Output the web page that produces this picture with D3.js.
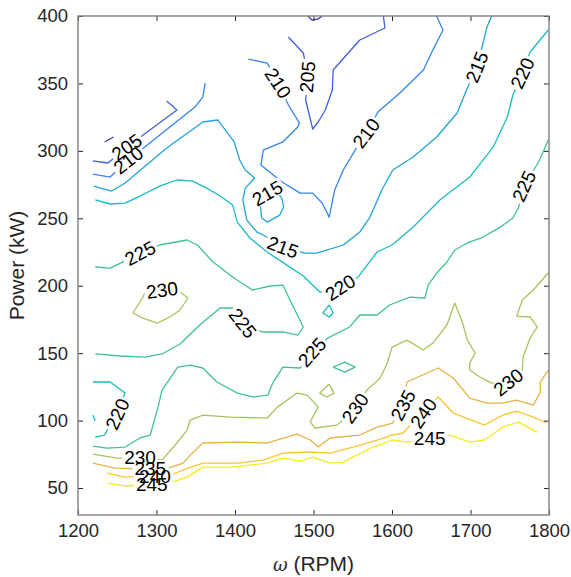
<!DOCTYPE html>
<html><head><meta charset="utf-8">
<script src="https://cdn.jsdelivr.net/npm/d3@7"></script>
<style>body{margin:0;background:#fff}</style>
</head><body>
<svg id="c" width="571" height="577"></svg>
<script>
// ---- data ----
const rpmTicks = [1200,1300,1400,1500,1600,1700,1800];
const powerTicks = [50,100,150,200,250,300,350,400];
const levels = [200,205,210,215,220,225,230,235,240,245];
const levelColors = ["#4a2fb0","#3f5fe0","#3585e6","#1fa5dc","#17bcc4","#40c38e","#a6c45c","#e3b443","#f7c535","#f2ee1c"];

const iso200 = [
  [[1493,400],[1498,397],[1506,397.8],[1511,400]],
  [[1234,306.6],[1243,309.5],[1245,310.3]]
];
const iso205 = [
  [[1313,337],[1326,330.3],[1283,311.8],[1262,302.1],[1238,291],[1219,292.5]],
  [[1468,384.4],[1487,372.6],[1493,354.8],[1490,337.7],[1499,316.2],[1506,321.4],[1515,330.3],[1524,345.1],[1525,360],[1559,382.2],[1591,391.1],[1589,400]]
];
const iso210 = [
  [[1362,350.3],[1359,339.9],[1349,332.5],[1285,302.9],[1264,293.2],[1241,280.6],[1219,282.8]],
  [[1417,368.1],[1441,365.1],[1455,350.3],[1468,334],[1482,320.7],[1480,317.7],[1461,306.6],[1436,300.6],[1433,289.5],[1460,276.9],[1483,268.7],[1499,268.7],[1511,261.3],[1520,250.9],[1527,271],[1538,285.8],[1553,300.6],[1568,313.2],[1582,328.8],[1610,342.9],[1640,360],[1652,374.8],[1665,389.6],[1659,397],[1657,400]]
];
const iso215 = [
  [[1220,273.9],[1243,270.2],[1260,276.2],[1313,302.1],[1359,321.4],[1378,322.9],[1399,306.6],[1406,293.2],[1413,285.8],[1425,279.9],[1413,272.4],[1410,263.6],[1415,248.7],[1428,239.8],[1436,237.6],[1461,228.7],[1489,224.2],[1504,224.2],[1538,230.2],[1559,239.8],[1572,250.9],[1587,271],[1601,285.8],[1627,295.4],[1657,310.3],[1683,328.1],[1696,346.6],[1708,362.2],[1716,380],[1721,391.8],[1727,400]],
  [[1432,261.3],[1434,250.2],[1441,247.2],[1457,252.4],[1462,258.4],[1460,264.3],[1451,272.4],[1437,271],[1432,261.3]]
];
const iso220 = [
  [[1222,263.6],[1241,260.6],[1260,261.3],[1279,266.5],[1304,273.9],[1326,278.4],[1346,277.6],[1364,272.4],[1381,266.5],[1397,259.8],[1403,247.2],[1419,235.4],[1441,225],[1466,215.3],[1487,207.2],[1508,195.3],[1534,198.3],[1557,206.5],[1581,225],[1600,230.2],[1627,243.5],[1661,263.6],[1699,280.6],[1729,302.9],[1747,325.1],[1754,341.4],[1766,357.7],[1776,373.3],[1799,389.6]],
  [[1219,128.6],[1241,128.6],[1260,120.4],[1248,104.9],[1234,89.3],[1222,87.8]],
  [[1219,104.1],[1222,99.7]],
  [[1520,185.7],[1525,179.8],[1520,176.8],[1512,179.8],[1520,185.7]]
];
const iso225 = [
  [[1222,213.9],[1241,213.1],[1254,216.8],[1279,224.2],[1304,230.2],[1339,233.9],[1352,230.2],[1372,217.6],[1397,206.5],[1422,196.8],[1445,199.8],[1461,200.5],[1470,189.4],[1487,169.4],[1480,163.4],[1461,165.7],[1436,165.7],[1425,167.1],[1410,172.3],[1397,183.5],[1381,183.5],[1355,170.9],[1330,156.8],[1307,149.4],[1285,147.1],[1254,147.9],[1222,149.4]],
  [[1799,308],[1792,298.4],[1786,291],[1768,273.9],[1761,257.6],[1754,250.2],[1738,243.5],[1716,236.1],[1696,231.7],[1680,226.5],[1670,217.6],[1657,209.4],[1646,200.5],[1642,190.9],[1623,191.6],[1597,185.7],[1581,178.3],[1559,178.3],[1546,169.4],[1518,161.2],[1498,150.8],[1483,139],[1461,139.7],[1448,127.8],[1442,118.9],[1423,117.5],[1403,120.4],[1377,128.6],[1359,139],[1343,141.2],[1327,139.7],[1307,122.6],[1302,110],[1292,89.3],[1279,87.1],[1260,80.4],[1237,79.6],[1219,81.1]],
  [[1525,139.7],[1540,143.4],[1553,139.7],[1540,136],[1525,139.7]]
];
const iso230 = [
  [[1282,190.9],[1289,199],[1307,201.3],[1330,195.3],[1340,190.9],[1330,182],[1317,176.8],[1301,172.3],[1282,176.1],[1270,179.8],[1282,190.9]],
  [[1219,75.2],[1250,72.2],[1279,72.2],[1307,70.7],[1326,83.4],[1339,93],[1343,100.4],[1359,104.1],[1394,102.6],[1441,101.9],[1454,110],[1479,120.4],[1492,118.9],[1506,110],[1499,102.6],[1496,98.9],[1502,94.5],[1530,96.7],[1553,107.8],[1568,122.6],[1585,131.6],[1594,142.7],[1600,154.5],[1619,159.7],[1640,152.3],[1652,157.5],[1670,170.9],[1680,187.2],[1690,172.3],[1696,159.7],[1706,150.1],[1699,142.7],[1699,137.5],[1712,132.3],[1727,127.8],[1748,128.6],[1766,137.5],[1767,147.1],[1776,161.2],[1785,169.4],[1776,176.8],[1759,177.5],[1766,189.4],[1780,196.8],[1799,209.4]],
  [[1520,127.1],[1526,120.4],[1517,117.5],[1508,120.4],[1520,127.1]]
];
const iso235 = [
  [[1219,68.5],[1247,64.8],[1292,64.1],[1315,64.8],[1334,68.5],[1343,74.4],[1359,83.4],[1403,84.1],[1441,83.4],[1479,90],[1496,85.6],[1506,80.4],[1521,87.1],[1559,89.3],[1581,95.2],[1601,98.2],[1613,113.7],[1619,128.6],[1659,139],[1678,131.6],[1699,116.7],[1721,113],[1741,113],[1759,115.2],[1780,111.5],[1789,121.2],[1789,128.6],[1799,137.5]]
];
const iso240 = [
  [[1237,61.1],[1260,58.1],[1298,58.9],[1321,60.4],[1340,64.8],[1359,68.5],[1403,68.5],[1436,70.7],[1461,75.9],[1496,76.7],[1521,75.9],[1555,81.1],[1581,85.6],[1600,89.3],[1614,90.8],[1636,104.1],[1659,117.5],[1678,105.6],[1718,96.7],[1741,104.1],[1759,107.1],[1780,102.6],[1797,98.2]]
];
const iso245 = [
  [[1238,53.7],[1260,51.5],[1294,53],[1320,54.4],[1339,58.1],[1359,65.5],[1397,65.5],[1441,68.5],[1461,72.2],[1483,70],[1499,72.9],[1521,68.5],[1538,69.2],[1555,74.4],[1576,80.4],[1600,85.6],[1620,84.1],[1648,87.1],[1674,89.3],[1699,84.1],[1718,85.6],[1741,95.2],[1761,98.9],[1785,91.5]]
];
const isoLines = [iso200,iso205,iso210,iso215,iso220,iso225,iso230,iso235,iso240,iso245];

// label: [level, rpm, kW, rotation in degrees]
const contourLabels = [
  [205,1262,302.9,-35],[210,1264,293.2,-38],[210,1455,350.3,57],[205,1492,354.8,-85],
  [210,1567,313.2,-53],[215,1708,362.2,-68],[220,1766,357.7,-65],[225,1768,273.9,-65],
  [215,1441,268.7,-30],[215,1461,228.7,20],[220,1534,198.8,-33],[225,1279,224.2,-28],
  [230,1307,196.8,-8],[225,1410,172.3,52],[225,1498,150.8,-48],[220,1250,104.9,-65],
  [230,1279,72.9,0],[235,1292,64.8,0],[240,1298,58.9,0],[245,1294,53,0],
  [230,1553,109.3,-55],[235,1614,111.5,-62],[240,1640,105.6,-55],[245,1648,87.1,0],
  [230,1748,128.6,-38]
];

// ---- drawing ----
const W = 571, H = 577;
const m = {l:78, r:549, t:16, b:515};
const svg = d3.select('#c');
const x = d3.scaleLinear().domain([1200,1800]).range([m.l,m.r]);
const y = d3.scaleLinear().domain([30,400]).range([m.b,m.t]);
const color = d3.scaleOrdinal().domain(levels).range(levelColors);

svg.append('defs').append('clipPath').attr('id','pc')
  .append('rect').attr('x',m.l).attr('y',m.t).attr('width',m.r-m.l).attr('height',m.b-m.t);

const line = d3.line().x(d=>x(d[0])).y(d=>y(d[1]));
const gl = svg.append('g').attr('clip-path','url(#pc)');
isoLines.forEach((segs,i)=>{
  gl.selectAll(null).data(segs).enter().append('path')
    .attr('d',line).attr('fill','none')
    .attr('stroke',color(levels[i])).attr('stroke-width',1.3)
    .attr('stroke-linejoin','round');
});

const gBg = svg.append('g');
const gTx = svg.append('g');
contourLabels.forEach(([lv,r,p,a])=>{
  const tr = `translate(${x(r)},${y(p)}) rotate(${a})`;
  const t = gTx.append('text').attr('transform',tr)
    .attr('text-anchor','middle').attr('dy','0.36em')
    .attr('font-family','Liberation Sans, Arial, sans-serif').attr('font-size',19)
    .attr('fill','#000').text(lv);
  const w = t.node().getComputedTextLength();
  gBg.append('rect').attr('transform',tr)
    .attr('x',-w/2-2).attr('y',-8).attr('width',w+4).attr('height',16).attr('fill','#fff');
});

// axes
const font = 'Liberation Sans, Arial, sans-serif';
const ax = svg.append('g').attr('transform',`translate(0,${m.b})`)
  .call(d3.axisBottom(x).tickValues(rpmTicks).tickSizeInner(-5).tickSizeOuter(0).tickPadding(9).tickFormat(d3.format('d')));
const axT = svg.append('g').attr('transform',`translate(0,${m.t})`)
  .call(d3.axisTop(x).tickValues(rpmTicks).tickSizeInner(-5).tickSizeOuter(0).tickFormat(''));
const ay = svg.append('g').attr('transform',`translate(${m.l},0)`)
  .call(d3.axisLeft(y).tickValues(powerTicks).tickSizeInner(-5).tickSizeOuter(0).tickPadding(10));
const ayR = svg.append('g').attr('transform',`translate(${m.r},0)`)
  .call(d3.axisRight(y).tickValues(powerTicks).tickSizeInner(-5).tickSizeOuter(0).tickFormat(''));
[ax,axT,ay,ayR].forEach(g=>{
  g.select('.domain').remove();
  g.selectAll('.tick line').attr('stroke','#262626').attr('stroke-width',1);
  g.selectAll('.tick text').attr('font-family',font).attr('font-size',18.5).attr('fill','#262626');
});
svg.append('rect').attr('x',m.l).attr('y',m.t).attr('width',m.r-m.l).attr('height',m.b-m.t)
  .attr('fill','none').attr('stroke','#808080').attr('stroke-width',1.4);

// axis titles
const xt = svg.append('text').attr('x',(m.l+m.r)/2).attr('y',571).attr('text-anchor','middle')
  .attr('font-family',font).attr('font-size',21).attr('fill','#262626');
xt.append('tspan').attr('font-style','italic').attr('font-family','DejaVu Serif, serif').attr('font-size',18).text('ω');
xt.append('tspan').text(' (RPM)');
svg.append('text').attr('transform',`translate(24,${(m.t+m.b)/2}) rotate(-90)`).attr('text-anchor','middle')
  .attr('font-family',font).attr('font-size',21).attr('fill','#262626').text('Power (kW)');
</script>
</body></html>
